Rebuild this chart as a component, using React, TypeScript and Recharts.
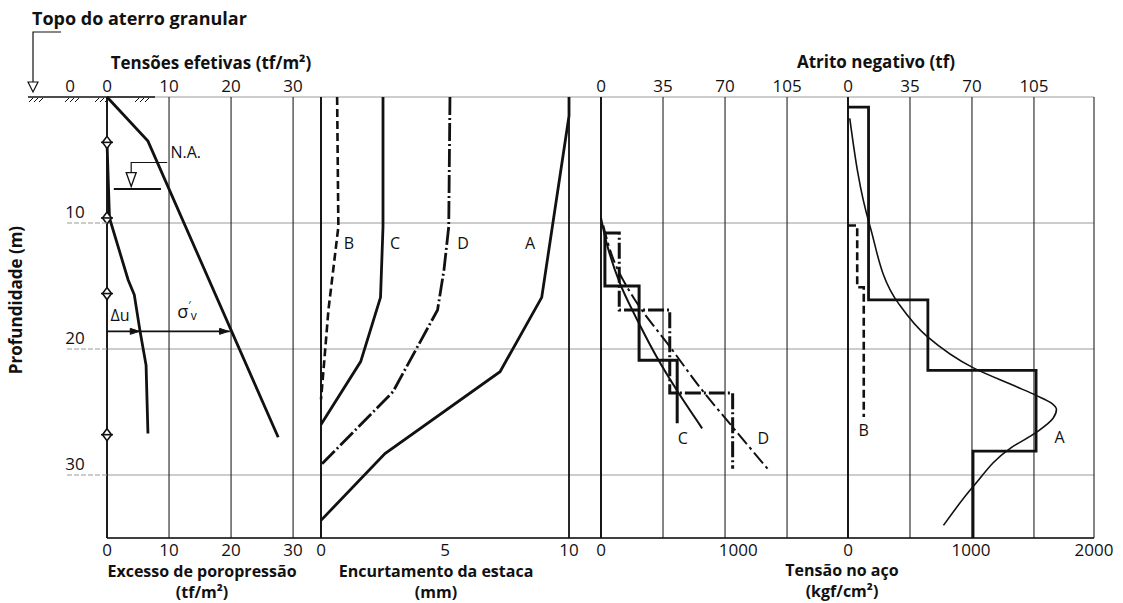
import React from 'react';
import {
  ComposedChart,
  Line,
  XAxis,
  YAxis,
  CartesianGrid,
  ReferenceLine,
  ReferenceDot,
} from 'recharts';

// all series are [value, depth (m)] pairs
const depthTicks = [0, 10, 20, 30];

// panel 1: effective stress / excess pore pressure (tf/m²)
const stressTicks = [0, 10, 20, 30];
const sigmaV = [[0, 0], [6.6, 3.5], [27.6, 27.0]];
const deltaU = [[0, 3.6], [0.4, 9.6], [3.4, 14.5], [4.4, 15.7], [5.3, 18.5], [6.3, 21.3], [6.6, 26.7]];
const piezoDepths = [3.6, 9.6, 15.6, 26.8];
const waterLevel = [[1.1, 7.3], [8.7, 7.3]];
const waterLeader = [[9.7, 5.2], [3.9, 5.2], [3.9, 6.0]];
const waterMark = [[3.9, 6.55]];
const arrowLine = [[0, 18.6], [19.8, 18.6]];
const arrowTips = [[5.2, 18.6], [19.6, 18.6]];

// panel 2: pile shortening (mm)
const shortTicks = [0, 5, 10];
const shortB = [[0.65, 0], [0.7, 10.3], [0.3, 16.9], [0.1, 21.7], [0, 24]];
const shortC = [[2.5, 0], [2.5, 10.3], [2.4, 15.9], [1.6, 21], [0, 26]];
const shortD = [[5.2, 0], [5.15, 10.3], [4.96, 13.7], [4.7, 16.9], [2.9, 23.4], [0, 29.2]];
const shortA = [[10, 0], [10, 1.5], [8.9, 15.9], [7.22, 21.8], [2.58, 28.3], [0, 33.6]];

// panel 3: negative friction (tf), steel stress (kgf/cm²)
const frictionTicks = [0, 35, 70, 105];
const steelTicks3 = [0, 1000];
const stairC = [[2.2, 10.8], [2.2, 15.0], [21.5, 15.0], [21.5, 20.9], [43, 20.9], [43, 25.9]];
const stairD = [[2.2, 10.8], [10.3, 10.8], [10.3, 16.9], [38.8, 16.9], [38.8, 23.5], [74.3, 23.5], [74.3, 29.5]];
const curveC = [[0, 9.6], [3.2, 11.6], [10.7, 14.8], [21.9, 18.1], [31.3, 20.6], [42.9, 23.3], [57.1, 26.3]];
const curveD = [[1.3, 10.2], [8.8, 13.5], [21.5, 16.6], [38.8, 19.8], [55.6, 23.0], [74.3, 26.2], [94, 29.5]];

// panel 4
const steelTicks4 = [0, 1000, 2000];
const stairA = [[0, 0.8], [11.6, 0.8], [11.6, 16.1], [45.1, 16.1], [45.1, 21.7], [106.2, 21.7], [106.2, 28.1], [70.6, 28.1], [70.6, 35]];
const stairB = [[0, 10.2], [5.2, 10.2], [5.2, 15.1], [8.9, 15.1], [8.9, 25.4]];
const curveA = [
  [1.0, 1.7], [12.3, 10.2], [28.6, 16.4], [44.6, 19.0], [70.8, 21.5], [95.2, 23.0], [106.5, 23.7],
  [114.9, 24.3], [117.7, 24.8], [115.8, 25.5], [106.5, 26.6], [91.4, 27.9], [70.8, 30.9], [53.9, 34.0],
];

const ink = '#111';
const toPts = (rows: number[][]) => rows.map(([v, d]) => ({ v, d }));

interface SeriesDef {
  name: string;
  rows: number[][];
  width: number;
  dash?: string;
  smooth?: boolean;
}

interface TagDef {
  v: number;
  d: number;
  text: string;
}

const TagText = ({ cx, cy, text }: any) => (
  <text x={cx} y={cy} textAnchor="middle" dominantBaseline="central" fontSize={16} fill={ink}>
    {text}
  </text>
);

/** depth labels plus the short dashed extension of the grid, ground surface at 0 */
const DepthTick = (props: any) => {
  const { x, y, payload } = props;
  if (payload.value === 0) {
    const hatch = [-78, -42, -12, 28];
    return (
      <g>
        <line x1={x - 79} y1={y} x2={x + 48} y2={y} stroke={ink} strokeWidth={1.6} />
        {hatch.map((h) =>
          [0, 5, 10].map((k) => (
            <line key={`${h}-${k}`} x1={x + h + k + 4} y1={y + 1} x2={x + h + k} y2={y + 5} stroke={ink} strokeWidth={1} />
          )),
        )}
        <polyline points={`${x - 46},${y - 65} ${x - 74},${y - 65} ${x - 74},${y - 15}`} fill="none" stroke={ink} strokeWidth={1.2} />
        <polygon points={`${x - 79},${y - 15} ${x - 69},${y - 15} ${x - 74},${y - 5}`} fill="#fff" stroke={ink} strokeWidth={1.2} />
        <text x={x - 37} y={y - 5} textAnchor="middle" fontSize={17} fill={ink}>0</text>
      </g>
    );
  }
  return (
    <g>
      <line x1={x - 40} y1={y} x2={x} y2={y} stroke="#999" strokeDasharray="5 2" />
      <text x={x - 32} y={y - 5} textAnchor="middle" fontSize={17} fill={ink}>{payload.value}</text>
    </g>
  );
};

const Diamond = ({ cx, cy }: any) => (
  <g>
    <polygon points={`${cx},${cy - 6} ${cx + 4.5},${cy} ${cx},${cy + 6} ${cx - 4.5},${cy}`} fill="#fff" stroke={ink} strokeWidth={1.6} />
    <line x1={cx - 6} y1={cy} x2={cx + 6} y2={cy} stroke={ink} strokeWidth={1.6} />
  </g>
);

const WaterTriangle = ({ cx, cy }: any) => (
  <polygon points={`${cx - 5},${cy - 7} ${cx + 5},${cy - 7} ${cx},${cy + 7}`} fill="#fff" stroke={ink} strokeWidth={1.3} />
);

const ArrowHead = ({ cx, cy }: any) => (
  <polygon points={`${cx - 9},${cy - 3} ${cx},${cy} ${cx - 9},${cy + 3}`} fill={ink} stroke={ink} />
);

// σ'v written as one run so that prime and subscript sit beside the sigma
const SigmaLabel = ({ cx, cy }: any) => (
  <text x={cx - 6} y={cy} dominantBaseline="central" fontSize={18} fill={ink}>
    σ<tspan dy={-7} fontSize={11}>′</tspan>
    <tspan dy={11} fontSize={12}>v</tspan>
  </text>
);

const tickStyle = { fontSize: 17, fill: ink };

function Panel(props: any) {
  const {
    left, width, marginLeft = 0, padL = 24, padR = 24, topMax, topTicks, showTop = true, bottomMax, bottomTicks,
    series, tags = [], borders = [0], depthAxis, children,
  } = props;
  return (
    <div style={{ position: 'absolute', left: left - padL, top: 0 }}>
      <ComposedChart
        width={width + padL + padR}
        height={603}
        layout="vertical"
        margin={{ top: 77, right: padR, bottom: 35, left: marginLeft + padL }}
      >
        <CartesianGrid xAxisId="t" yAxisId="d" vertical={false} stroke="#9a9a9a" strokeWidth={1} />
        <CartesianGrid xAxisId="t" yAxisId="d" horizontal={false} stroke="#222" strokeWidth={1.1} />
        <XAxis
          xAxisId="t"
          orientation="top"
          type="number"
          domain={[0, topMax]}
          ticks={topTicks}
          interval={0}
          height={20}
          axisLine={false}
          tickLine={false}
          tickSize={0}
          tickMargin={5}
          tick={showTop ? tickStyle : false}
        />
        {/* second scale of the panel, no series drawn on it */}
        <XAxis
          xAxisId="b"
          orientation="bottom"
          type="number"
          domain={[0, bottomMax]}
          ticks={bottomTicks}
          interval={0}
          height={30}
          axisLine={{ stroke: ink, strokeWidth: 1.6 }}
          tickLine={false}
          tickSize={0}
          tickMargin={6}
          tick={tickStyle}
          allowDataOverflow
        />
        {depthAxis || (
          <YAxis yAxisId="d" type="number" dataKey="d" domain={[0, 35]} ticks={depthTicks} hide />
        )}
        {borders.map((b: number) => (
          <ReferenceLine key={`b${b}`} xAxisId="t" yAxisId="d" x={b} stroke={ink} strokeWidth={1.8} />
        ))}
        {series.map((s: SeriesDef) => (
          <Line
            key={s.name}
            xAxisId="t"
            yAxisId="d"
            data={toPts(s.rows)}
            dataKey="v"
            type={s.smooth ? 'monotone' : 'linear'}
            stroke={ink}
            strokeWidth={s.width}
            strokeDasharray={s.dash}
            dot={false}
            activeDot={false}
            isAnimationActive={false}
          />
        ))}
        {tags.map((t: TagDef) => (
          <ReferenceDot
            key={t.text}
            xAxisId="t"
            yAxisId="d"
            x={t.v}
            y={t.d}
            r={0}
            shape={(p: any) => <TagText {...p} text={t.text} />}
          />
        ))}
        {children}
      </ComposedChart>
    </div>
  );
}

const title: React.CSSProperties = {
  position: 'absolute',
  transform: 'translate(-50%, -50%)',
  whiteSpace: 'nowrap',
  fontWeight: 700,
  fontSize: 17,
  color: ink,
  lineHeight: 1,
};
const subTitle: React.CSSProperties = { ...title, fontSize: 16 };

export default function App() {
  return (
    <div
      style={{
        position: 'absolute',
        left: 0,
        top: 0,
        width: 1123,
        height: 603,
        background: '#fff',
        fontFamily: '"Open Sans", Lato, sans-serif',
        overflow: 'hidden',
      }}
    >
      <Panel
        left={0}
        width={321}
        marginLeft={47}
        padL={0}
        topMax={34.5}
        topTicks={stressTicks}
        bottomMax={34.5}
        bottomTicks={stressTicks}
        borders={[]}
        series={[
          { name: 'sigmaV', rows: sigmaV, width: 2.8 },
          { name: 'deltaU', rows: deltaU, width: 2.8 },
          { name: 'water', rows: waterLevel, width: 2 },
          { name: 'leader', rows: waterLeader, width: 1.2 },
          { name: 'arrow', rows: arrowLine, width: 1.6 },
        ]}
        tags={[{ v: 2.1, d: 17.3, text: 'Δu' }]}
        depthAxis={
          <YAxis
            yAxisId="d"
            type="number"
            dataKey="d"
            domain={[0, 35]}
            ticks={depthTicks}
            interval={0}
            width={60}
            tickLine={false}
            tickSize={0}
            tickMargin={0}
            axisLine={{ stroke: ink, strokeWidth: 1.8 }}
            tick={(p: any) => <DepthTick {...p} />}
          />
        }
      >
        <Line
          xAxisId="t"
          yAxisId="d"
          data={piezoDepths.map((d) => ({ v: 0, d }))}
          dataKey="v"
          stroke="none"
          dot={(p: any) => <Diamond key={p.index} {...p} />}
          activeDot={false}
          isAnimationActive={false}
        />
        <Line
          xAxisId="t"
          yAxisId="d"
          data={toPts(waterMark)}
          dataKey="v"
          stroke="none"
          dot={(p: any) => <WaterTriangle key={p.index} {...p} />}
          activeDot={false}
          isAnimationActive={false}
        />
        <Line
          xAxisId="t"
          yAxisId="d"
          data={toPts(arrowTips)}
          dataKey="v"
          stroke="none"
          dot={(p: any) => <ArrowHead key={p.index} {...p} />}
          activeDot={false}
          isAnimationActive={false}
        />
        <ReferenceDot
          xAxisId="t"
          yAxisId="d"
          x={12.7}
          y={4.4}
          r={0}
          shape={(p: any) => <TagText {...p} text="N.A." />}
        />
        <ReferenceDot xAxisId="t" yAxisId="d" x={12.3} y={17.0} r={0} shape={(p: any) => <SigmaLabel {...p} />} />
      </Panel>

      <Panel
        left={321}
        width={280}
        topMax={11.29}
        topTicks={shortTicks}
        showTop={false}
        bottomMax={11.29}
        bottomTicks={shortTicks}
        borders={[0, 10]}
        series={[
          { name: 'B', rows: shortB, width: 2.6, dash: '8 4' },
          { name: 'C', rows: shortC, width: 2.8 },
          { name: 'D', rows: shortD, width: 2.8, dash: '18 3 2 3' },
          { name: 'A', rows: shortA, width: 2.8 },
        ]}
        tags={[
          { v: 1.13, d: 11.6, text: 'B' },
          { v: 2.99, d: 11.6, text: 'C' },
          { v: 5.73, d: 11.6, text: 'D' },
          { v: 8.43, d: 11.6, text: 'A' },
        ]}
      />

      <Panel
        left={601}
        width={247}
        topMax={139.4}
        topTicks={frictionTicks}
        bottomMax={1800}
        bottomTicks={steelTicks3}
        series={[
          { name: 'stairC', rows: stairC, width: 3 },
          { name: 'stairD', rows: stairD, width: 3, dash: '16 3 2 3' },
          { name: 'curveC', rows: curveC, width: 2, smooth: true },
          { name: 'curveD', rows: curveD, width: 2, dash: '14 4 3 4', smooth: true },
        ]}
        tags={[
          { v: 46.1, d: 27.1, text: 'C' },
          { v: 91.6, d: 27.1, text: 'D' },
        ]}
      />

      <Panel
        left={848}
        width={246}
        topMax={138.9}
        topTicks={frictionTicks}
        bottomMax={2000}
        bottomTicks={steelTicks4}
        series={[
          { name: 'stairA', rows: stairA, width: 2.8 },
          { name: 'stairB', rows: stairB, width: 2.6, dash: '8 4' },
          { name: 'curveA', rows: curveA, width: 1.6, smooth: true },
        ]}
        tags={[
          { v: 8.8, d: 26.4, text: 'B' },
          { v: 119.4, d: 27.0, text: 'A' },
        ]}
      />

      <div style={{ ...title, left: 32, top: 18, fontSize: 18, transform: 'translateY(-50%)' }}>Topo do aterro granular</div>
      <div style={{ ...title, left: 211, top: 62 }}>Tensões efetivas (tf/m²)</div>
      <div style={{ ...title, left: 876, top: 61 }}>Atrito negativo (tf)</div>
      <div style={{ ...subTitle, left: 202, top: 571 }}>Excesso de poropressão</div>
      <div style={{ ...subTitle, left: 202, top: 592 }}>(tf/m²)</div>
      <div style={{ ...subTitle, left: 436, top: 571 }}>Encurtamento da estaca</div>
      <div style={{ ...subTitle, left: 436, top: 592 }}>(mm)</div>
      <div style={{ ...subTitle, left: 842, top: 570 }}>Tensão no aço</div>
      <div style={{ ...subTitle, left: 842, top: 591 }}>(kgf/cm²)</div>
      <div style={{ ...title, left: 15, top: 300, transform: 'translate(-50%, -50%) rotate(-90deg)' }}>
        Profundidade (m)
      </div>
    </div>
  );
}
